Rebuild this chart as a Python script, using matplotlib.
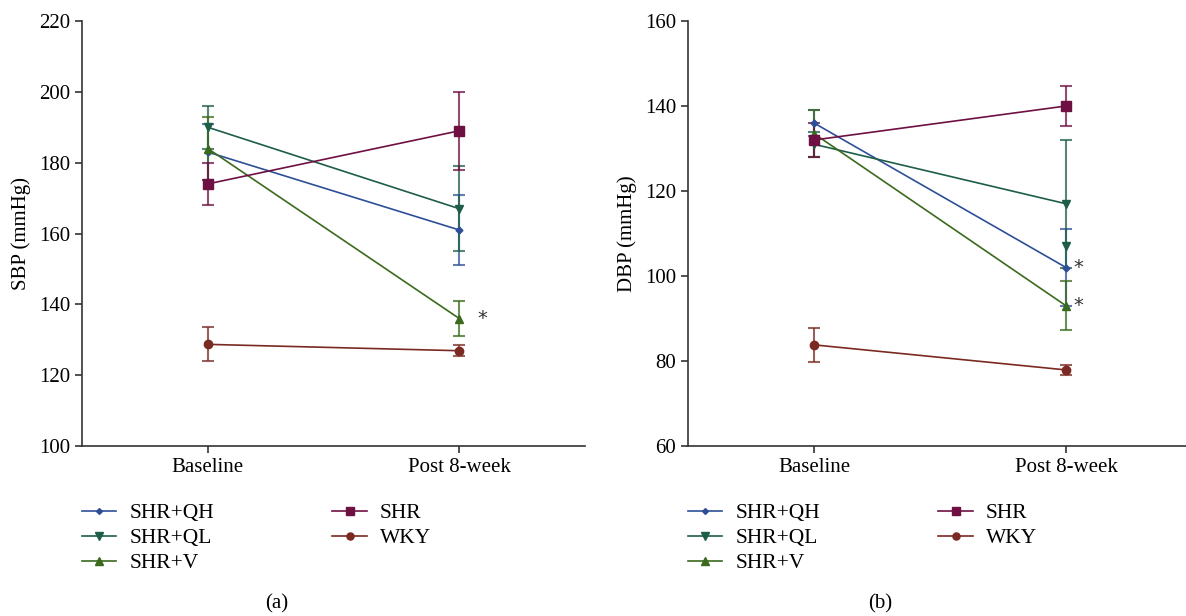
import numpy as np
import matplotlib
matplotlib.use("Agg")
import matplotlib.pyplot as plt
from matplotlib.lines import Line2D

plt.rcParams['font.family'] = ['Liberation Serif', 'DejaVu Serif']

timepoints = ["Baseline", "Post 8-week"]
groups = ["SHR+QH", "SHR+QL", "SHR+V", "SHR", "WKY"]

# SBP (mmHg) mean and error at baseline / post 8-week
sbp_qh = [183, 161]
sbp_qh_err = [8, 10]
sbp_ql = [190, 167]
sbp_ql_err = [6, 12]
sbp_v = [184, 136]
sbp_v_err = [9, 5]
sbp_shr = [174, 189]
sbp_shr_err = [6, 11]
sbp_wky = [128.7, 126.9]
sbp_wky_err = [4.8, 1.5]

# DBP (mmHg)
dbp_qh = [136, 102]
dbp_qh_err = [3, 9]
dbp_ql = [131, 117]
dbp_ql_err = [3, 15]
dbp_v = [133.5, 93]
dbp_v_err = [5.5, 5.8]
dbp_shr = [132, 140]
dbp_shr_err = [4, 4.8]
dbp_wky = [83.8, 77.9]
dbp_wky_err = [4, 1.2]
dbp_ql_extra = 107  # stray marker on the SHR+QL error bar

colors = {"SHR+QH": "#2e4f98", "SHR+QL": "#1e5e48", "SHR+V": "#3b6a1e",
          "SHR": "#6e1042", "WKY": "#7a2a22"}
markers = {"SHR+QH": ("D", 3.5), "SHR+QL": ("v", 6), "SHR+V": ("^", 6),
           "SHR": ("s", 6.5), "WKY": ("o", 6)}

FS = 15

fig = plt.figure(figsize=(11.86, 6.16), dpi=100)
ax1 = fig.add_axes([82/1186, 1-446/616, (585-82)/1186, 425/616])
ax2 = fig.add_axes([688/1186, 1-446/616, (1186-688)/1186, 425/616])

x = np.arange(len(timepoints))


def draw(ax, data):
    for name, (vals, errs) in data.items():
        m, ms = markers[name]
        c = colors[name]
        eb = ax.errorbar(x, vals, yerr=errs, color=c, marker=m, ms=ms,
                         lw=1.2, elinewidth=1.5, capsize=4.5, capthick=1.5)
        for bl in eb[2]:
            bl.set_alpha(0.75)
        for cl in eb[1]:
            cl.set_alpha(0.75)


draw(ax1, {"SHR+QH": (sbp_qh, sbp_qh_err), "SHR+QL": (sbp_ql, sbp_ql_err),
           "SHR+V": (sbp_v, sbp_v_err), "SHR": (sbp_shr, sbp_shr_err),
           "WKY": (sbp_wky, sbp_wky_err)})
draw(ax2, {"SHR+QH": (dbp_qh, dbp_qh_err), "SHR+QL": (dbp_ql, dbp_ql_err),
           "SHR+V": (dbp_v, dbp_v_err), "SHR": (dbp_shr, dbp_shr_err),
           "WKY": (dbp_wky, dbp_wky_err)})
ax2.plot([1], [dbp_ql_extra], marker="v", ms=6, color=colors["SHR+QL"], ls="none")

# significance marks
ax1.text(1.09, sbp_v[1], "*", fontsize=14, va="center", ha="center",
         family="DejaVu Sans", color="#333333")
ax2.text(1.05, dbp_qh[1], "*", fontsize=14, va="center", ha="center",
         family="DejaVu Sans", color="#333333")
ax2.text(1.05, dbp_v[1], "*", fontsize=14, va="center", ha="center",
         family="DejaVu Sans", color="#333333")

for ax, ylab, ylim in [(ax1, "SBP (mmHg)", (100, 220)), (ax2, "DBP (mmHg)", (60, 160))]:
    ax.set_ylim(*ylim)
    ax.set_yticks(np.arange(ylim[0], ylim[1] + 1, 20))
    ax.set_xticks(x)
    ax.set_xticklabels(timepoints)
    ax.set_ylabel(ylab, fontsize=FS, labelpad=6)
    ax.spines['top'].set_visible(False)
    ax.spines['right'].set_visible(False)
    ax.tick_params(labelsize=FS, length=5, width=1.2, color="#333333")
    for s in ("left", "bottom"):
        ax.spines[s].set_linewidth(1.2)
        ax.spines[s].set_color("#333333")

ax1.set_xlim(-0.5, 1.5)
ax2.set_xlim(-0.5, (1186-814)/252)

handles = [Line2D([], [], color=colors[g], marker=markers[g][0],
                  ms=markers[g][1] * 0.85, lw=1.2) for g in groups]

for ax in (ax1, ax2):
    ax.legend(handles, groups, loc="upper left", bbox_to_anchor=(0.0, -0.135),
              ncol=2, frameon=False, fontsize=15.5, handlelength=1.6,
              handletextpad=0.6, columnspacing=5.5, labelspacing=0.22,
              borderaxespad=0, borderpad=0)

fig.text(277/1186, 1-604/616, "(a)", fontsize=FS, ha="center", va="center")
fig.text(880/1186, 1-604/616, "(b)", fontsize=FS, ha="center", va="center")

fig.savefig("out.png", dpi=100)
